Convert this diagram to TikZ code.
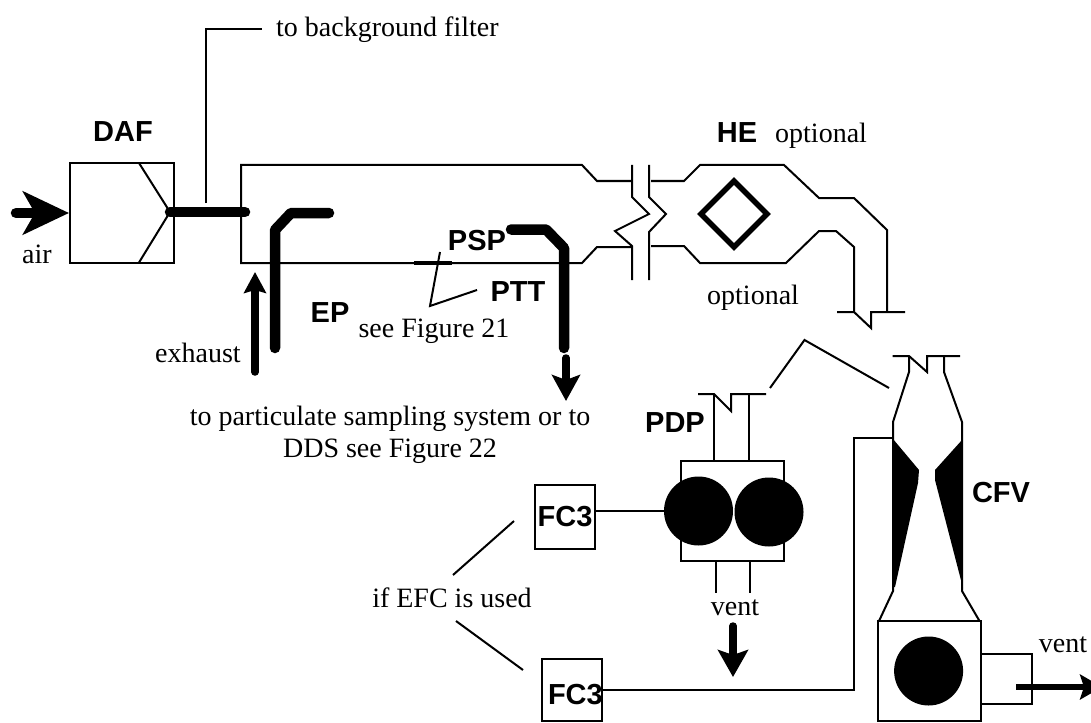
\documentclass[tikz,border=0pt]{standalone}
\usepackage{fontspec}
\usepackage{xcolor}
\usepackage{tikz}
\usetikzlibrary{arrows.meta}
\setmainfont{Liberation Serif}
\setsansfont{Liberation Sans}

\begin{document}
\begin{tikzpicture}[x=1pt,y=-1pt,
    pipe/.style={line width=2pt,line join=miter},
    probe/.style={line width=10.5pt,line cap=round,line join=round},
    flow/.style={line width=7.5pt,line cap=round},
    box node/.style={draw,line width=2pt,inner sep=0pt,fill=white},
    fan node/.style={circle,fill=black,inner sep=0pt,minimum size=69pt},
    tag node/.style={inner sep=0pt,font=\sffamily\bfseries\fontsize{29}{29}\selectfont},
    note node/.style={inner sep=0pt,font=\fontsize{28}{32}\selectfont}]
        \useasboundingbox (0,0) rectangle (1091,722);
        \fill[white] (0,0) rectangle (1091,722);

        \node[box node,minimum width=104pt,minimum height=99pt] (daf) at (122,213) {};
        \node[tag node] (daflabel) at (123,132) {DAF};
        \node[note node,anchor=base] (air) at (37,263) {air};
        \node[note node,anchor=base west] (bgfilter) at (276,37) {to background filter};
        \node[note node,anchor=base] (exhaust) at (198,362) {exhaust};
        \node[tag node] (ep) at (330,313) {EP};
        \node[note node,anchor=base] (seefig) at (434,337) {see Figure 21};
        \node[tag node] (psp) at (477,241) {PSP};
        \node[tag node] (ptt) at (518,292) {PTT};
        \node[note node,anchor=base,align=center] (sampling) at (390,457) {to particulate sampling system or to\\DDS see Figure 22};
        \node[tag node] (he) at (737,133) {HE};
        \node[note node,anchor=base west] (opttop) at (775,143) {optional};
        \node[note node,anchor=base west] (optlow) at (707,304) {optional};
        \node[tag node] (pdp) at (675,423) {PDP};
        \node[tag node] (cfv) at (1001,493) {CFV};
        \node[note node,anchor=base] (ifefc) at (452,607) {if EFC is used};
        \node[note node,anchor=base] (ventmid) at (735,615) {vent};
        \node[note node,anchor=base] (ventright) at (1063,652) {vent};

        \coordinate (airin) at (16,213);
        \coordinate (bgjoin) at (206,203);
        \coordinate (bgcorner) at (206,29);
        \coordinate (bgend) at (262,29);
        \draw[pipe] (bgjoin) -- (bgcorner) -- (bgend);
        \draw[pipe] (139,163) -- (170,212) -- (139,262.5);
        \draw[line width=10.5pt,line cap=round,-{Stealth[length=46pt,width=43pt,inset=12pt]}] (airin) -- (daf.west);
        \draw[probe] (170,212) -- (245,212);

        % tunnel
        \draw[pipe] (632,181) -- (597,181) -- (582,165) -- (241,165) -- (241,263) -- (570,263)
          -- (582,263) -- (597,247) -- (632,247);
        \draw[pipe] (632,165) -- (632,197) -- (649,214) -- (615,231) -- (632,246) -- (632,280);
        \draw[pipe] (649,165) -- (649,197) -- (666,214) -- (649,232) -- (649,280);
        \draw[pipe] (651,181) -- (684,181) -- (700,165) -- (784,165) -- (819,198) -- (854,198)
          -- (887,230) -- (887,312);
        \draw[pipe] (651,246) -- (684,246) -- (700,263) -- (786,263) -- (819,231) -- (836,231)
          -- (854,247) -- (854,312);
        \draw[pipe] (837,312) -- (854,312) -- (871,328) -- (871,312) -- (905,312);
        \draw[line width=5.5pt,line join=miter] (734,181) -- (767,214) -- (734,247) -- (701,214) -- cycle;

        % probes
        \draw[probe] (275,348) -- (275,230) -- (291,213) -- (329,213);
        \draw[probe] (511,229.5) -- (546,229.5) -- (564,248) -- (564,348);
        \coordinate (exhstart) at (255,372);
        \coordinate (exhtip) at (255,272);
        \draw[flow,-{Stealth[length=21pt,width=22pt,inset=3pt]}] (exhstart) -- (exhtip);
        \coordinate (spstart) at (566,358);
        \coordinate (sptip) at (566,401);
        \draw[flow,-{Stealth[length=26pt,width=28pt,inset=5pt]}] (spstart) -- (sptip);
        \draw[line width=4.5pt] (414,263) -- (452,263);
        \coordinate (pttknee) at (430,306);
        \draw[pipe] (440,252) -- (pttknee) -- (477,290);

        % break line
        \coordinate (breakpeak) at (804.5,340);
        \draw[pipe] (770,388) -- (breakpeak) -- (889,388);

        % pump
        \draw[pipe] (698,394) -- (714,394) -- (731,411) -- (731,394) -- (766,394);
        \draw[pipe] (714,394) -- (714,461);
        \draw[pipe] (749,394) -- (749,461);
        \node[box node,minimum width=102.5pt,minimum height=100pt] (pdpbox) at (732.25,511) {};
        \node[fan node] (fanleft) at (698.5,511) {};
        \node[fan node] (fanright) at (769,512) {};
        \draw[pipe] (716,561) -- (716,593);
        \draw[pipe] (749.5,561) -- (749.5,593);
        \coordinate (ventstart) at (733,626);
        \coordinate (venttip) at (733,677);
        \draw[flow,-{Stealth[length=27pt,width=30pt,inset=5pt]}] (ventstart) -- (venttip);

        \node[box node,minimum width=60pt,minimum height=64pt,tag node] (fcup) at (565,517) {FC3};
        \node[box node,minimum width=60pt,minimum height=62pt,tag node] (fclow) at (572,690) {};
        \node[tag node,anchor=east] (fclowlabel) at (603,695) {FC3};
        \path[pipe] (fcup.east |- fanleft) edge (fanleft);

        % venturi
        \draw[pipe] (892.5,356) -- (909,356) -- (927,372) -- (927,356) -- (960,356);
        \draw[pipe] (909,356) -- (909,372) -- (893,422) -- (893,591) -- (879,621);
        \draw[pipe] (944,356) -- (944,372) -- (962,422) -- (962,591) -- (979.5,621);
        \fill (893,439) -- (919,470) -- (918,483) -- (895,587) -- (893,587) -- cycle;
        \fill (962,440) -- (935,470) -- (935,480) -- (963,588) -- (962,588) -- cycle;
        \draw[pipe] (981,654) -- (1032,654) -- (1032,704) -- (981,704);
        \node[box node,minimum width=103pt,minimum height=100pt,fill=none] (cfvbox) at (929.5,671) {};
        \node[fan node] (fancfv) at (928.6,671) {};
        \coordinate (fcjoin) at (853.6,438);
        \coordinate (fcknee) at (853.6,690);
        \draw[pipe] (893,438) -- (fcjoin) -- (fcknee) -- (fclow.east |- fcknee);
        \coordinate (ventrstart) at (1016,687);
        \coordinate (ventrtip) at (1102,687);
        \draw[line width=6pt,-{Stealth[length=22pt,width=25pt,inset=4pt]}] (ventrstart) -- (ventrtip);

        \coordinate (efcup) at (453,575);
        \coordinate (efcupend) at (514,521);
        \coordinate (efclow) at (456,621);
        \coordinate (efclowend) at (523,670);
        \draw[pipe] (efcup) -- (efcupend);
        \draw[pipe] (efclow) -- (efclowend);
      \end{tikzpicture}
\end{document}
